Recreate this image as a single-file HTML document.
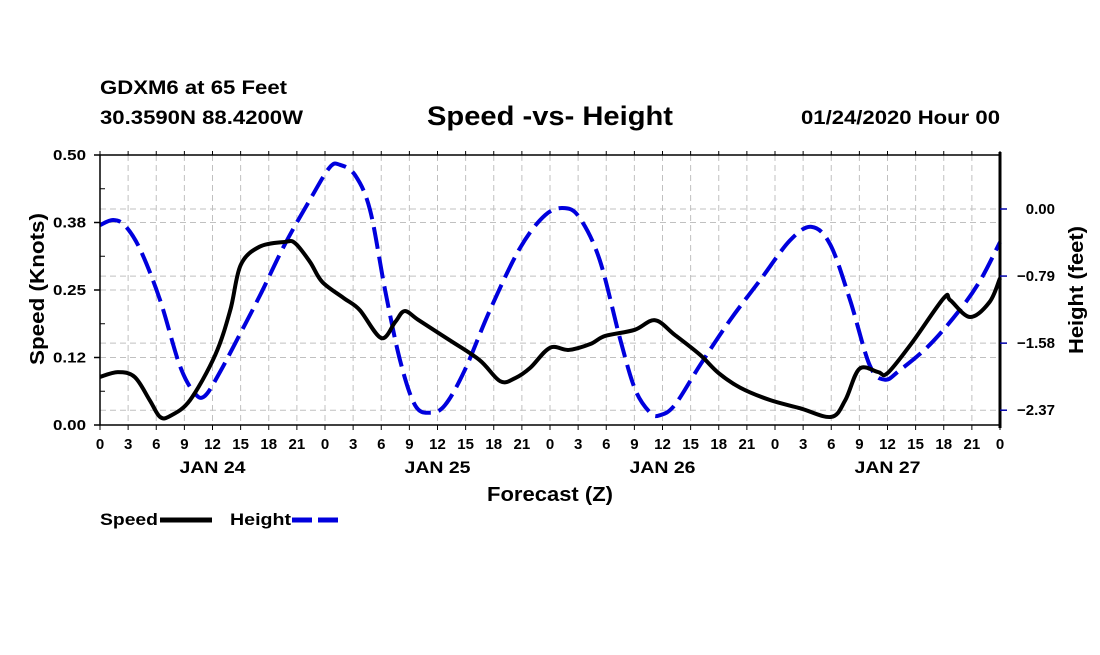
<!DOCTYPE html>
<html><head><meta charset="utf-8"><style>
body{margin:0;background:#fff;}
svg text{font-family:"Liberation Sans",Arial,sans-serif;font-weight:bold;}
</style></head><body>
<svg id="chart" width="1100" height="650" viewBox="0 0 1100 650" xmlns="http://www.w3.org/2000/svg">
<rect width="1100" height="650" fill="#fff"/>
<text x="100" y="94" font-size="19" textLength="187" lengthAdjust="spacingAndGlyphs">GDXM6 at 65 Feet</text>
<text x="100" y="124" font-size="19" textLength="203" lengthAdjust="spacingAndGlyphs">30.3590N 88.4200W</text>
<text x="427" y="125" font-size="27" textLength="246" lengthAdjust="spacingAndGlyphs">Speed -vs- Height</text>
<text x="801" y="124" font-size="19" textLength="199" lengthAdjust="spacingAndGlyphs">01/24/2020 Hour 00</text>
<g id="grid"></g>
<g id="series"></g>
<g id="axes"></g>
<text transform="translate(44,365) rotate(-90)" font-size="20" textLength="152" lengthAdjust="spacingAndGlyphs">Speed (Knots)</text>
<text transform="translate(1083,354) rotate(-90)" font-size="20" textLength="128" lengthAdjust="spacingAndGlyphs">Height (feet)</text>
<text x="487" y="501" font-size="20" textLength="126" lengthAdjust="spacingAndGlyphs">Forecast (Z)</text>
<g>
<text x="100" y="525" font-size="17" textLength="58" lengthAdjust="spacingAndGlyphs">Speed</text>
<line x1="160" y1="520" x2="212" y2="520" stroke="#000" stroke-width="5"/>
<text x="230" y="525" font-size="17" textLength="61" lengthAdjust="spacingAndGlyphs">Height</text>
<line x1="292" y1="520" x2="342" y2="520" stroke="#0000dd" stroke-width="5" stroke-dasharray="20,6"/>
</g>
</svg>
<script>
const speedHours=[0,1.9,3.7,5.3,6.4,7.5,9.6,12.3,13.9,15,17,19.7,20.8,22.4,23.7,26,27.7,30,31.5,32.5,34,37.3,40.5,42.7,44.3,45.9,48,50,52.3,53.9,57,59.2,61.3,64,66,68.3,71.5,74.7,78,79.5,81,83,84,86.6,90,90.7,92.8,94.9,96];
const speedValues=[0.089,0.098,0.089,0.046,0.015,0.017,0.046,0.130,0.213,0.296,0.330,0.339,0.337,0.302,0.265,0.235,0.213,0.161,0.191,0.211,0.194,0.157,0.120,0.081,0.087,0.106,0.143,0.139,0.150,0.165,0.176,0.194,0.167,0.130,0.096,0.069,0.046,0.031,0.015,0.046,0.104,0.098,0.096,0.152,0.235,0.231,0.200,0.228,0.272];
const heightHours=[0,1.4,2.7,4.3,6.4,8.5,10.1,11.2,12.8,14.9,17.1,19.7,22.4,24.5,25.6,27.2,28.8,30.4,32,33.6,35.2,36.8,38.9,41.6,44.8,47.5,49.6,51.2,53.3,55.5,57.1,58.7,59.7,61.3,64,67.2,70.4,73.6,75.9,77.9,80,82.1,83.7,85.3,88.5,91.7,93.9,96];
const heightValues=[-0.19,-0.13,-0.20,-0.48,-1.07,-1.84,-2.17,-2.20,-1.92,-1.48,-1.01,-0.42,0.11,0.49,0.52,0.40,-0.01,-0.95,-1.78,-2.31,-2.40,-2.31,-1.90,-1.19,-0.46,-0.07,0.01,-0.11,-0.60,-1.54,-2.13,-2.40,-2.43,-2.31,-1.84,-1.31,-0.84,-0.37,-0.21,-0.42,-1.07,-1.84,-2.01,-1.90,-1.60,-1.19,-0.84,-0.39];
const speedTicks=[0,0.125,0.25,0.375,0.5];
const speedTickLabels=["0.00","0.12","0.25","0.38","0.50"];
const heightTicks=[0,-0.79,-1.58,-2.37];
const heightTickLabels=["0.00","\u22120.79","\u22121.58","\u22122.37"];
const hourLabels=["0","3","6","9","12","15","18","21"];
const dayLabels=["JAN 24","JAN 25","JAN 26","JAN 27"];

const X0=100,X1=1000,Y0=425,Y1=155;
const xs=h=>X0+(X1-X0)*h/96;
const ys=v=>Y0-(Y0-Y1)*v/0.5;
const yh=v=>209-v*84.9;
const NS="http://www.w3.org/2000/svg";
function mk(tag,attrs,parent){const e=document.createElementNS(NS,tag);for(const k in attrs)e.setAttribute(k,attrs[k]);parent.appendChild(e);return e;}
const grid=document.getElementById('grid'),axes=document.getElementById('axes'),series=document.getElementById('series');
for(let h=3;h<96;h+=3){const l=mk('line',{x1:xs(h),x2:xs(h),y1:Y1,y2:Y0,stroke:'#c0c0c0','stroke-dasharray':'6,4'},grid);

}
speedTicks.slice(1,4).forEach(v=>{const l=mk('line',{x1:X0,x2:X1,y1:ys(v),y2:ys(v),stroke:'#c0c0c0','stroke-dasharray':'6,4'},grid);

});
heightTicks.forEach(v=>{const l=mk('line',{x1:X0,x2:X1,y1:yh(v),y2:yh(v),stroke:'#c0c0c0','stroke-dasharray':'6,4'},grid);

});
function path(hs,vs,sy){const p=hs.map((h,i)=>[xs(h),sy(vs[i])]);let d='M'+p[0][0]+','+p[0][1];
for(let i=0;i<p.length-1;i++){const a=p[Math.max(0,i-1)],b=p[i],c=p[i+1],e=p[Math.min(p.length-1,i+2)];
d+=' C'+(b[0]+(c[0]-a[0])/6)+','+(b[1]+(c[1]-a[1])/6)+' '+(c[0]-(e[0]-b[0])/6)+','+(c[1]-(e[1]-b[1])/6)+' '+c[0]+','+c[1];}return d;}
const hp=mk('path',{d:path(heightHours,heightValues,yh),fill:'none',stroke:'#0000dd','stroke-width':4,'stroke-dasharray':'22,8'},series);


const sp=mk('path',{d:path(speedHours,speedValues,ys),fill:'none',stroke:'#000','stroke-width':4,'stroke-linejoin':'round'},series);


const fr=mk('rect',{x:X0,y:Y1,width:X1-X0,height:Y0-Y1,fill:'none',stroke:'#000','stroke-width':1.5},axes);


const ra=mk('line',{x1:X1,x2:X1,y1:Y1-3,y2:Y0+3,stroke:'#000','stroke-width':3},axes);


speedTicks.forEach((v,i)=>{const t=mk('line',{x1:X0-6,x2:X0,y1:ys(v),y2:ys(v),stroke:'#000','stroke-width':1.5},axes);


const tx=mk('text',{x:X0-14,y:ys(v)+5,'font-size':15,'text-anchor':'end',textLength:33,lengthAdjust:'spacingAndGlyphs'},axes);tx.textContent=speedTickLabels[i];

});
for(let k=1;k<8;k+=2){const m=mk('line',{x1:X0,x2:X0+5,y1:ys(k*0.0625),y2:ys(k*0.0625),stroke:'#000'},axes);

}
heightTicks.forEach((v,i)=>{const t=mk('line',{x1:X1,x2:X1+7,y1:yh(v),y2:yh(v),stroke:'#0000aa','stroke-width':1.5},axes);


const tx=mk('text',{x:1055,y:yh(v)+5,'font-size':15,'text-anchor':'end'},axes);tx.textContent=heightTickLabels[i];

});
for(let h=0;h<=96;h+=3){const t=mk('line',{x1:xs(h),x2:xs(h),y1:Y0,y2:Y0+5,stroke:'#000'},axes);


const tt=mk('line',{x1:xs(h),x2:xs(h),y1:Y1-4,y2:Y1,stroke:'#000'},axes);


const tx=mk('text',{x:xs(h),y:Y0+24,'font-size':15,'text-anchor':'middle'},axes);tx.textContent=hourLabels[(h/3)%8];

}
dayLabels.forEach((d,i)=>{const tx=mk('text',{x:xs(12+24*i)-33,y:Y0+48,'font-size':17,textLength:66,lengthAdjust:'spacingAndGlyphs'},axes);tx.textContent=d;

});
</script>
</body></html>
